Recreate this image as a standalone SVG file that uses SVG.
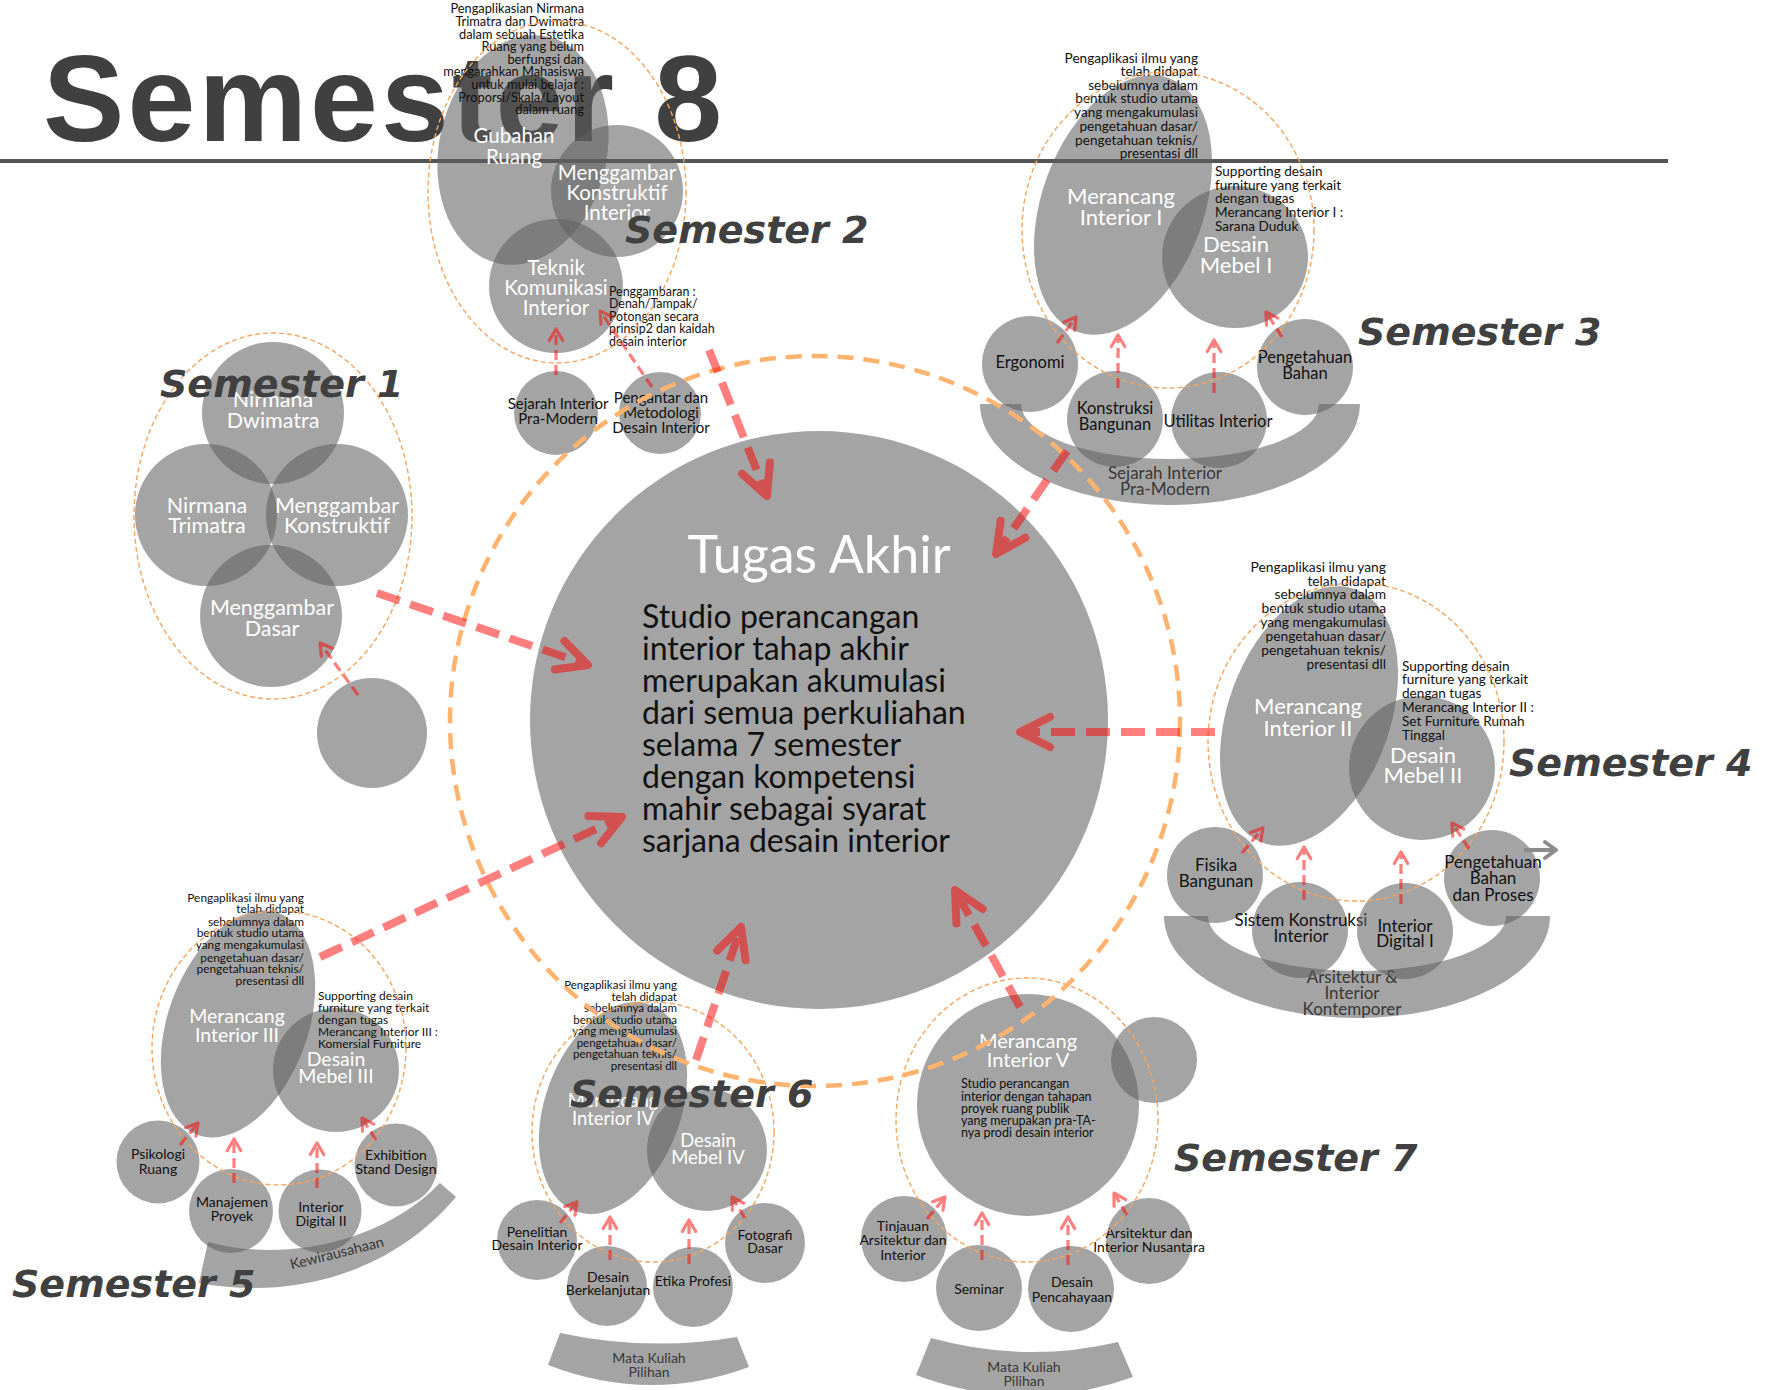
<svg xmlns="http://www.w3.org/2000/svg" width="1769" height="1390" viewBox="0 0 1769 1390">
<defs>
<style>
.g{fill:#5f5f5f;fill-opacity:.57}
.od{fill:none;stroke:#f7a45e;stroke-width:1.4;stroke-dasharray:5 3}
.ob{fill:none;stroke:#ffb36e;stroke-width:4.5;stroke-dasharray:16 10}
text{font-family:Lato,"Open Sans","DejaVu Sans",sans-serif}
.ttl{font-family:"Liberation Sans",Arial,sans-serif;font-weight:bold;font-size:122px;fill:#404040}
.w{fill:#fff;text-anchor:middle}
.k{fill:#111;text-anchor:middle}
.bd{fill:#383838;text-anchor:middle}
.ar{fill:#111;text-anchor:end}
.al{fill:#111}
.sem{font-family:"DejaVu Sans",sans-serif;font-weight:bold;font-style:italic;font-size:38px;fill:#404040}
.ra{fill:none;stroke:#f00;stroke-width:8;stroke-dasharray:24 11;marker-end:url(#mb)}
.rs{fill:none;stroke:#f00;stroke-width:3.2;stroke-dasharray:10 5;marker-end:url(#ms)}
</style>
<marker id="mb" viewBox="-40 -25 50 50" markerWidth="50" markerHeight="50" refX="0" refY="0" orient="auto" markerUnits="userSpaceOnUse">
<path d="M-30,-15 L0,0 L-30,15" fill="none" stroke="#f00" stroke-width="8" stroke-linecap="round" stroke-linejoin="round"/>
</marker>
<marker id="ms" viewBox="-18 -12 24 24" markerWidth="24" markerHeight="24" refX="0" refY="0" orient="auto" markerUnits="userSpaceOnUse">
<path d="M-11.5,-6.7 L0,0 L-11.5,6.7" fill="none" stroke="#f00" stroke-width="3.2" stroke-linecap="round" stroke-linejoin="round"/>
</marker>
<marker id="mg" viewBox="-18 -12 24 24" markerWidth="24" markerHeight="24" refX="0" refY="0" orient="auto" markerUnits="userSpaceOnUse">
<path d="M-11,-8 L0,0 L-11,8" fill="none" stroke="#8c8c8c" stroke-width="4" stroke-linecap="round" stroke-linejoin="round"/>
</marker>
</defs>
<rect width="1769" height="1390" fill="#fff"/>

<g id="title">
<text class="ttl" x="43" y="141" textLength="679" lengthAdjust="spacing">Semester 8</text>
<line x1="0" y1="161" x2="1668" y2="161" stroke="#555" stroke-width="4"/>
</g>

<g id="tugas-akhir">
<circle class="g" cx="819" cy="720" r="289"/>
<text class="w" x="819" y="573" font-size="52">Tugas Akhir</text>
<text class="al" font-size="32"><tspan x="642" y="628">Studio perancangan</tspan><tspan x="642" y="660">interior tahap akhir</tspan><tspan x="642" y="692">merupakan akumulasi</tspan><tspan x="642" y="724">dari semua perkuliahan</tspan><tspan x="642" y="756">selama 7 semester</tspan><tspan x="642" y="788">dengan kompetensi</tspan><tspan x="642" y="820">mahir sebagai syarat</tspan><tspan x="642" y="852">sarjana desain interior</tspan></text>
</g>

<!-- Semester 1 -->
<g id="sem1">
<g id="nirmana-dwimatra"><circle class="g" cx="273" cy="413" r="71"/><text class="w" font-size="21.5"><tspan x="273" y="407">Nirmana</tspan><tspan x="273" y="428">Dwimatra</tspan></text></g>
<g id="nirmana-trimatra"><circle class="g" cx="206" cy="515" r="71"/><text class="w" font-size="21.5"><tspan x="207" y="513">Nirmana</tspan><tspan x="207" y="533">Trimatra</tspan></text></g>
<g id="menggambar-konstruktif"><circle class="g" cx="337" cy="515" r="71"/><text class="w" font-size="21.5"><tspan x="337" y="513">Menggambar</tspan><tspan x="337" y="533">Konstruktif</tspan></text></g>
<g id="menggambar-dasar"><circle class="g" cx="271" cy="616" r="71"/><text class="w" font-size="21.5"><tspan x="272" y="615">Menggambar</tspan><tspan x="272" y="636">Dasar</tspan></text></g>
<g id="sem1-extra"><circle class="g" cx="372" cy="733" r="55"/></g>
<ellipse class="od" cx="273" cy="516" rx="139" ry="183"/>
</g>

<!-- Semester 2 -->
<g id="sem2">
<g id="gubahan-ruang"><ellipse class="g" cx="523" cy="150" rx="84" ry="116" transform="rotate(12 523 150)"/><text class="w" font-size="20.5"><tspan x="514" y="143">Gubahan</tspan><tspan x="514" y="164">Ruang</tspan></text></g>
<g id="menggambar-konstruktif-interior"><circle class="g" cx="617" cy="191" r="66"/><text class="w" font-size="20.5"><tspan x="617" y="180">Menggambar</tspan><tspan x="617" y="200">Konstruktif</tspan><tspan x="617" y="220">Interior</tspan></text></g>
<g id="teknik-komunikasi-interior"><circle class="g" cx="556" cy="286" r="67"/><text class="w" font-size="20.5"><tspan x="556" y="275">Teknik</tspan><tspan x="556" y="295">Komunikasi</tspan><tspan x="556" y="315">Interior</tspan></text></g>
<g id="sejarah-interior-pra-modern"><circle class="g" cx="556" cy="413" r="42"/><text class="k" font-size="15"><tspan x="558" y="409">Sejarah Interior</tspan><tspan x="558" y="424">Pra-Modern</tspan></text></g>
<g id="pengantar-metodologi"><circle class="g" cx="660" cy="413" r="41"/><text class="k" font-size="15"><tspan x="661" y="403">Pengantar dan</tspan><tspan x="661" y="418">Metodologi</tspan><tspan x="661" y="433">Desain Interior</tspan></text></g>
<text class="ar" font-size="12.8"><tspan x="584" y="13">Pengaplikasian Nirmana</tspan><tspan x="584" y="26">Trimatra dan Dwimatra</tspan><tspan x="584" y="39">dalam sebuah Estetika</tspan><tspan x="584" y="51">Ruang yang belum</tspan><tspan x="584" y="64">berfungsi dan</tspan><tspan x="584" y="76">mengarahkan Mahasiswa</tspan><tspan x="584" y="89">untuk mulai belajar :</tspan><tspan x="584" y="102">Proporsi/Skala/Layout</tspan><tspan x="584" y="114">dalam ruang</tspan></text>
<text class="al" font-size="12.4"><tspan x="609" y="296">Penggambaran :</tspan><tspan x="609" y="308">Denah/Tampak/</tspan><tspan x="609" y="321">Potongan secara</tspan><tspan x="609" y="333">prinsip2 dan kaidah</tspan><tspan x="609" y="346">desain interior</tspan></text>
<ellipse class="od" cx="557" cy="192" rx="129" ry="171"/>
</g>

<!-- Semester 3 -->
<g id="sem3">
<g id="sejarah-interior-pra-modern-band"><path class="g" d="M980,404 A190,101 0 0 0 1360,404 L1319,404 A149,55 0 0 1 1021,404 Z"/><text class="bd" font-size="17"><tspan x="1165" y="479">Sejarah Interior</tspan><tspan x="1165" y="495">Pra-Modern</tspan></text></g>
<g id="merancang-interior-1"><ellipse class="g" cx="1123" cy="205" rx="81" ry="135" transform="rotate(20 1123 205)"/><text class="w" font-size="22"><tspan x="1121" y="204">Merancang</tspan><tspan x="1121" y="225">Interior I</tspan></text></g>
<g id="desain-mebel-1"><ellipse class="g" cx="1235" cy="257" rx="73" ry="71"/><text class="w" font-size="22"><tspan x="1236" y="252">Desain</tspan><tspan x="1236" y="273">Mebel I</tspan></text></g>
<g id="ergonomi"><circle class="g" cx="1030" cy="364" r="48"/><text class="k" font-size="16.5" x="1030" y="368">Ergonomi</text></g>
<g id="konstruksi-bangunan"><circle class="g" cx="1115" cy="419" r="48"/><text class="k" font-size="16.5"><tspan x="1115" y="414">Konstruksi</tspan><tspan x="1115" y="430">Bangunan</tspan></text></g>
<g id="utilitas-interior"><circle class="g" cx="1219" cy="420" r="48"/><text class="k" font-size="16.5" x="1218" y="427">Utilitas Interior</text></g>
<g id="pengetahuan-bahan"><circle class="g" cx="1305" cy="367" r="48"/><text class="k" font-size="16.5"><tspan x="1305" y="363">Pengetahuan</tspan><tspan x="1305" y="379">Bahan</tspan></text></g>
<text class="ar" font-size="13.6"><tspan x="1198" y="63">Pengaplikasi ilmu yang</tspan><tspan x="1198" y="76">telah didapat</tspan><tspan x="1198" y="90">sebelumnya dalam</tspan><tspan x="1198" y="103">bentuk studio utama</tspan><tspan x="1198" y="117">yang mengakumulasi</tspan><tspan x="1198" y="131">pengetahuan dasar/</tspan><tspan x="1198" y="145">pengetahuan teknis/</tspan><tspan x="1198" y="158">presentasi dll</tspan></text>
<text class="al" font-size="13.6"><tspan x="1215" y="176">Supporting desain</tspan><tspan x="1215" y="190">furniture yang terkait</tspan><tspan x="1215" y="203">dengan tugas</tspan><tspan x="1215" y="217">Merancang Interior I :</tspan><tspan x="1215" y="231">Sarana Duduk</tspan></text>
<ellipse class="od" cx="1168" cy="230" rx="146" ry="158"/>
</g>

<!-- Semester 4 -->
<g id="sem4">
<g id="arsitektur-interior-kontemporer"><path class="g" d="M1164,916 A193,102 0 0 0 1550,916 L1506,916 A149,55 0 0 1 1208,916 Z"/><text class="bd" font-size="17"><tspan x="1352" y="983">Arsitektur &amp;</tspan><tspan x="1352" y="999">Interior</tspan><tspan x="1352" y="1015">Kontemporer</tspan></text></g>
<g id="merancang-interior-2"><ellipse class="g" cx="1309" cy="716" rx="81" ry="135" transform="rotate(20 1309 716)"/><text class="w" font-size="22"><tspan x="1308" y="714">Merancang</tspan><tspan x="1308" y="736">Interior II</tspan></text></g>
<g id="desain-mebel-2"><ellipse class="g" cx="1422" cy="768" rx="73" ry="72"/><text class="w" font-size="22"><tspan x="1423" y="763">Desain</tspan><tspan x="1423" y="783">Mebel II</tspan></text></g>
<g id="fisika-bangunan"><circle class="g" cx="1215" cy="875" r="48"/><text class="k" font-size="17"><tspan x="1216" y="871">Fisika</tspan><tspan x="1216" y="887">Bangunan</tspan></text></g>
<g id="sistem-konstruksi-interior"><circle class="g" cx="1300" cy="930" r="48"/><text class="k" font-size="17"><tspan x="1301" y="926">Sistem Konstruksi</tspan><tspan x="1301" y="942">Interior</tspan></text></g>
<g id="interior-digital-1"><circle class="g" cx="1405" cy="931" r="48"/><text class="k" font-size="17"><tspan x="1405" y="932">Interior</tspan><tspan x="1405" y="947">Digital I</tspan></text></g>
<g id="pengetahuan-bahan-proses"><circle class="g" cx="1492" cy="878" r="48"/><text class="k" font-size="17"><tspan x="1493" y="868">Pengetahuan</tspan><tspan x="1493" y="884">Bahan</tspan><tspan x="1493" y="901">dan Proses</tspan></text></g>
<text class="ar" font-size="13.8"><tspan x="1386" y="572">Pengaplikasi ilmu yang</tspan><tspan x="1386" y="586">telah didapat</tspan><tspan x="1386" y="599">sebelumnya dalam</tspan><tspan x="1386" y="613">bentuk studio utama</tspan><tspan x="1386" y="627">yang mengakumulasi</tspan><tspan x="1386" y="641">pengetahuan dasar/</tspan><tspan x="1386" y="655">pengetahuan teknis/</tspan><tspan x="1386" y="669">presentasi dll</tspan></text>
<text class="al" font-size="13.6"><tspan x="1402" y="671">Supporting desain</tspan><tspan x="1402" y="684">furniture yang terkait</tspan><tspan x="1402" y="698">dengan tugas</tspan><tspan x="1402" y="712">Merancang Interior II :</tspan><tspan x="1402" y="726">Set Furniture Rumah</tspan><tspan x="1402" y="740">Tinggal</tspan></text>
<ellipse class="od" cx="1356" cy="742" rx="148" ry="159"/>
</g>

<!-- Semester 5 -->
<g id="sem5">
<g id="kewirausahaan"><path class="g" d="M208,1242 C280,1262 380,1245 440,1183 L456,1197 C390,1275 290,1300 199,1283 Z"/><text class="bd" font-size="14.5" x="338" y="1258" transform="rotate(-14 338 1258)">Kewirausahaan</text></g>
<g id="merancang-interior-3"><ellipse class="g" cx="238" cy="1024" rx="70" ry="118" transform="rotate(20 238 1024)"/><text class="w" font-size="19.5"><tspan x="237" y="1023">Merancang</tspan><tspan x="237" y="1042">Interior III</tspan></text></g>
<g id="desain-mebel-3"><ellipse class="g" cx="336" cy="1070" rx="63" ry="62"/><text class="w" font-size="19.5"><tspan x="336" y="1066">Desain</tspan><tspan x="336" y="1083">Mebel III</tspan></text></g>
<g id="psikologi-ruang"><circle class="g" cx="158" cy="1162" r="41.5"/><text class="k" font-size="14"><tspan x="158" y="1159">Psikologi</tspan><tspan x="158" y="1174">Ruang</tspan></text></g>
<g id="manajemen-proyek"><circle class="g" cx="231" cy="1211" r="42"/><text class="k" font-size="14"><tspan x="232" y="1207">Manajemen</tspan><tspan x="232" y="1221">Proyek</tspan></text></g>
<g id="interior-digital-2"><circle class="g" cx="320" cy="1211" r="41.5"/><text class="k" font-size="14"><tspan x="321" y="1212">Interior</tspan><tspan x="321" y="1226">Digital II</tspan></text></g>
<g id="exhibition-stand-design"><circle class="g" cx="396" cy="1165" r="41.5"/><text class="k" font-size="14"><tspan x="396" y="1160">Exhibition</tspan><tspan x="396" y="1174">Stand Design</tspan></text></g>
<text class="ar" font-size="11.9"><tspan x="304" y="902">Pengaplikasi ilmu yang</tspan><tspan x="304" y="913">telah didapat</tspan><tspan x="304" y="926">sebelumnya dalam</tspan><tspan x="304" y="937">bentuk studio utama</tspan><tspan x="304" y="949">yang mengakumulasi</tspan><tspan x="304" y="962">pengetahuan dasar/</tspan><tspan x="304" y="973">pengetahuan teknis/</tspan><tspan x="304" y="985">presentasi dll</tspan></text>
<text class="al" font-size="12"><tspan x="318" y="1000">Supporting desain</tspan><tspan x="318" y="1012">furniture yang terkait</tspan><tspan x="318" y="1024">dengan tugas</tspan><tspan x="318" y="1036">Merancang Interior III :</tspan><tspan x="318" y="1048">Komersial Furniture</tspan></text>
<ellipse class="od" cx="279" cy="1048" rx="127" ry="137"/>
</g>

<!-- Semester 6 -->
<g id="sem6">
<g id="mata-kuliah-pilihan-6"><path class="g" d="M560,1333 Q649,1352 737,1337 L749,1367 Q649,1404 548,1365 Z"/><text class="bd" font-size="14"><tspan x="649" y="1363">Mata Kuliah</tspan><tspan x="649" y="1377">Pilihan</tspan></text></g>
<g id="merancang-interior-4"><ellipse class="g" cx="613" cy="1108" rx="68" ry="110" transform="rotate(20 613 1108)"/><text class="w" font-size="18.5"><tspan x="613" y="1107">Merancang</tspan><tspan x="613" y="1125">Interior IV</tspan></text></g>
<g id="desain-mebel-4"><ellipse class="g" cx="707" cy="1150" rx="60" ry="61"/><text class="w" font-size="18.5"><tspan x="708" y="1147">Desain</tspan><tspan x="708" y="1164">Mebel IV</tspan></text></g>
<g id="penelitian-desain-interior"><circle class="g" cx="537" cy="1240" r="40"/><text class="k" font-size="14"><tspan x="537" y="1237">Penelitian</tspan><tspan x="537" y="1250">Desain Interior</tspan></text></g>
<g id="desain-berkelanjutan"><circle class="g" cx="607" cy="1286" r="40"/><text class="k" font-size="14"><tspan x="608" y="1282">Desain</tspan><tspan x="608" y="1295">Berkelanjutan</tspan></text></g>
<g id="etika-profesi"><circle class="g" cx="693" cy="1287" r="40"/><text class="k" font-size="14" x="693" y="1286">Etika Profesi</text></g>
<g id="fotografi-dasar"><circle class="g" cx="765" cy="1243" r="40"/><text class="k" font-size="14"><tspan x="765" y="1240">Fotografi</tspan><tspan x="765" y="1253">Dasar</tspan></text></g>
<text class="ar" font-size="11.5"><tspan x="677" y="989">Pengaplikasi ilmu yang</tspan><tspan x="677" y="1001">telah didapat</tspan><tspan x="677" y="1012">sebelumnya dalam</tspan><tspan x="677" y="1024">bentuk studio utama</tspan><tspan x="677" y="1035">yang mengakumulasi</tspan><tspan x="677" y="1047">pengetahuan dasar/</tspan><tspan x="677" y="1058">pengetahuan teknis/</tspan><tspan x="677" y="1070">presentasi dll</tspan></text>
<ellipse class="od" cx="653" cy="1132" rx="121" ry="130"/>
</g>

<!-- Semester 7 -->
<g id="sem7">
<g id="mata-kuliah-pilihan-7"><path class="g" d="M931,1338 Q1025,1364 1118,1342 L1133,1377 Q1025,1416 916,1375 Z"/><text class="bd" font-size="14"><tspan x="1024" y="1372">Mata Kuliah</tspan><tspan x="1024" y="1386">Pilihan</tspan></text></g>
<g id="merancang-interior-5"><circle class="g" cx="1028" cy="1105" r="111"/><text class="w" font-size="20"><tspan x="1028" y="1048">Merancang</tspan><tspan x="1028" y="1067">Interior V</tspan></text><text class="al" font-size="12.5"><tspan x="961" y="1088">Studio perancangan</tspan><tspan x="961" y="1101">interior dengan tahapan</tspan><tspan x="961" y="1113">proyek ruang publik</tspan><tspan x="961" y="1125">yang merupakan pra-TA-</tspan><tspan x="961" y="1137">nya prodi desain interior</tspan></text></g>
<g id="sem7-extra"><circle class="g" cx="1154" cy="1060" r="43"/></g>
<g id="tinjauan-arsitektur-interior"><circle class="g" cx="904" cy="1239" r="43"/><text class="k" font-size="14"><tspan x="903" y="1231">Tinjauan</tspan><tspan x="903" y="1245">Arsitektur dan</tspan><tspan x="903" y="1260">Interior</tspan></text></g>
<g id="seminar"><circle class="g" cx="979" cy="1288" r="43"/><text class="k" font-size="14" x="979" y="1294">Seminar</text></g>
<g id="desain-pencahayaan"><circle class="g" cx="1071" cy="1289" r="43"/><text class="k" font-size="14"><tspan x="1072" y="1287">Desain</tspan><tspan x="1072" y="1302">Pencahayaan</tspan></text></g>
<g id="arsitektur-interior-nusantara"><circle class="g" cx="1149" cy="1241" r="43"/><text class="k" font-size="14"><tspan x="1149" y="1238">Arsitektur dan</tspan><tspan x="1149" y="1252">Interior Nusantara</tspan></text></g>
<ellipse class="od" cx="1027" cy="1120" rx="131" ry="142"/>
</g>

<circle id="orbit" class="ob" cx="815" cy="721" r="365"/>

<g id="connectors">
<g opacity="0.5">
<line class="ra" x1="709" y1="350" x2="767" y2="496"/>
<line class="ra" x1="1067" y1="451" x2="996" y2="554"/>
<line class="ra" x1="377" y1="593" x2="588" y2="665"/>
<line class="ra" x1="1215" y1="732" x2="1020" y2="732"/>
<line class="ra" x1="320" y1="957" x2="622" y2="817"/>
<line class="ra" x1="696" y1="1060" x2="741" y2="927"/>
<line class="ra" x1="1020" y1="1007" x2="955" y2="890"/>
<line class="rs" x1="358" y1="695" x2="320" y2="643"/>
<line class="rs" x1="556" y1="375" x2="556" y2="329"/>
<line class="rs" x1="652" y1="387" x2="600" y2="311"/>
<line class="rs" x1="1057" y1="343" x2="1076" y2="317"/>
<line class="rs" x1="1118" y1="388" x2="1118" y2="335"/>
<line class="rs" x1="1214" y1="393" x2="1214" y2="340"/>
<line class="rs" x1="1282" y1="337" x2="1266" y2="312"/>
<line class="rs" x1="1242" y1="853" x2="1263" y2="828"/>
<line class="rs" x1="1304" y1="900" x2="1304" y2="847"/>
<line class="rs" x1="1401" y1="904" x2="1401" y2="852"/>
<line class="rs" x1="1469" y1="849" x2="1452" y2="823"/>
<line class="rs" x1="180" y1="1145" x2="198" y2="1123"/>
<line class="rs" x1="234" y1="1183" x2="234" y2="1139"/>
<line class="rs" x1="317" y1="1188" x2="317" y2="1143"/>
<line class="rs" x1="376" y1="1140" x2="362" y2="1118"/>
<line class="rs" x1="560" y1="1223" x2="577" y2="1202"/>
<line class="rs" x1="610" y1="1260" x2="610" y2="1217"/>
<line class="rs" x1="689" y1="1264" x2="689" y2="1220"/>
<line class="rs" x1="745" y1="1218" x2="732" y2="1197"/>
<line class="rs" x1="927" y1="1219" x2="945" y2="1197"/>
<line class="rs" x1="982" y1="1260" x2="982" y2="1213"/>
<line class="rs" x1="1068" y1="1265" x2="1068" y2="1217"/>
<line class="rs" x1="1127" y1="1215" x2="1114" y2="1193"/>
</g>
<line x1="1524" y1="850" x2="1556" y2="850" stroke="#8c8c8c" stroke-width="4" marker-end="url(#mg)"/>
</g>

<g id="semester-labels">
<text class="sem" x="160" y="397">Semester 1</text>
<text class="sem" x="625" y="243">Semester 2</text>
<text class="sem" x="1358" y="345">Semester 3</text>
<text class="sem" x="1509" y="776">Semester 4</text>
<text class="sem" x="12" y="1297">Semester 5</text>
<text class="sem" x="570" y="1107">Semester 6</text>
<text class="sem" x="1174" y="1171">Semester 7</text>
</g>
</svg>
